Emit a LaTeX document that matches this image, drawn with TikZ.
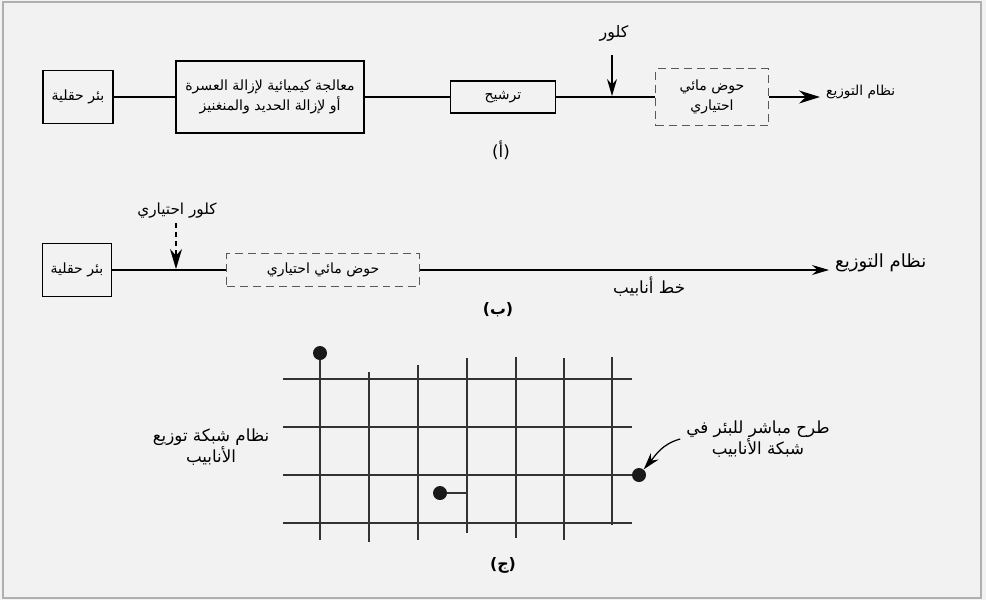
\documentclass[tikz,border=0pt]{standalone}
\usepackage{fontspec}
\newfontfamily\arabicfont[Script=Arabic]{DejaVu Sans}
\newfontfamily\parfont{DejaVu Sans}
\TeXXeTstate=1
\usepackage{tikz}
\usetikzlibrary{positioning, arrows.meta}
\definecolor{fundo}{HTML}{F2F2F2}
\definecolor{moldura}{HTML}{B0B0B0}
\newcommand{\ara}[1]{\beginR #1\endR}
\newcommand{\letraref}[1]{{\parfont(}\ara{#1}{\parfont)}}

\begin{document}
\begin{tikzpicture}[x=0.02cm, y=-0.02cm,
    caixa/.style={draw, line width=0.9pt, align=center, inner sep=1pt, font=\arabicfont\fontsize{8}{11}\selectfont},
    tanque/.style={caixa, draw=black!65, line width=0.8pt, dash pattern=on 0.16cm off 0.1cm},
    linha/.style={line width=0.8pt},
    seta/.style={-{Stealth[length=0.34cm, width=0.2cm]}, line width=0.8pt},
    rotp/.style={font=\arabicfont\fontsize{7.8}{9}\selectfont, align=center},
    rotg/.style={font=\arabicfont\fontsize{9.5}{11.5}\selectfont, align=center},
    letra/.style={font=\arabicfont\bfseries\fontsize{9}{11}\selectfont},
    grade/.style={line width=0.6pt, black!80},
    ponto/.style={circle, fill=black!90, inner sep=0pt, minimum size=0.28cm}
]
\useasboundingbox (0,0) rectangle (986,600);
\fill[fundo] (0,0) rectangle (986,600);
\draw[moldura, line width=0.8pt] (3,2) rectangle (981,598);

% (a)
\node[caixa, minimum width=1.4cm, minimum height=1.06cm] (pocoA) at (78,97) {\ara{بئر حقلية}};
\node[caixa, minimum width=3.76cm, minimum height=1.44cm] (quimica) at (270,97) {\ara{معالجة كيميائية لإزالة العسرة}\\\ara{أو لإزالة الحديد والمنغنيز}};
\node[caixa, minimum width=2.1cm, minimum height=0.64cm] (filtro) at (503,97) {\ara{ترشيح}};
\node[tanque, minimum width=2.26cm, minimum height=1.14cm] (tanqueA) at (712,97) {\ara{حوض مائي}\\\ara{احتياري}};
\node[rotp, anchor=west] (distA) at (820,92) {\ara{نظام التوزيع}};
\node[rotp, font=\arabicfont\fontsize{9}{11}\selectfont] (cloroA) at (614,33) {\ara{كلور}};
\coordinate (topoA) at (612,55);
\coordinate (injA) at (612,96);
\draw[linha] (pocoA) -- (quimica);
\draw[linha] (quimica) -- (filtro);
\draw[linha] (filtro) -- (tanqueA);
\draw[seta, -{Stealth[length=0.42cm, width=0.26cm]}] (tanqueA) -- (tanqueA -| distA.west);
\draw[seta] (topoA) -- (injA);
\node[letra, font=\arabicfont\fontsize{9.5}{11}\selectfont] (rotA) at (501,150) {\letraref{أ}};

% (b)
\node[caixa, minimum width=1.38cm, minimum height=1.06cm] (pocoB) at (77,270) {\ara{بئر حقلية}};
\node[tanque, minimum width=3.86cm, minimum height=0.66cm] (tanqueB) at (323,270) {\ara{حوض مائي احتياري}};
\node[rotg, anchor=west, font=\arabicfont\fontsize{10.3}{12}\selectfont] (distB) at (829,263) {\ara{نظام التوزيع}};
\node[rotp, font=\arabicfont\fontsize{8.7}{10}\selectfont] (cloroB) at (177,211) {\ara{كلور احتياري}};
\coordinate (topoB) at (176,223);
\coordinate (injB) at (176,269);
\draw[linha] (pocoB) -- (tanqueB);
\draw[seta, dash pattern=on 0.1cm off 0.08cm, -{Stealth[length=0.4cm, width=0.24cm]}] (topoB) -- (injB);
\draw[seta] (tanqueB) -- node[rotg, below, pos=0.56] {\ara{خط أنابيب}} (tanqueB -| distB.west);
\node[letra] (rotB) at (498,310) {\letraref{ب}};

% (c)
\node[ponto] (fonteA) at (320,353) {};
\node[ponto] (fonteB) at (440,493) {};
\node[ponto] (fonteC) at (639,475) {};
\coordinate (ligaB) at (467,493);
\coordinate (baseA) at (320,540);
\foreach \y in {379,427,523}
    \draw[grade] (283,\y) -- (632,\y);
\draw[grade] (283,475) -- (fonteC);
\draw[grade] (fonteA) -- (baseA);
\foreach \x/\t/\b in {369/372/542, 418/365/540, 467/358/533, 516/357/538, 564/358/540, 612/357/525}
    \draw[grade] (\x,\t) -- (\x,\b);
\draw[grade] (fonteB) -- (ligaB);
\node[rotg] (rede) at (211,447) {\ara{نظام شبكة توزيع}\\\ara{الأنابيب}};
\node[rotg] (direto) at (758,439) {\ara{طرح مباشر للبئر في}\\\ara{شبكة الأنابيب}};
\draw[seta, line width=0.7pt] (direto.west) to[out=195, in=50] (fonteC);
\node[letra] (rotC) at (503,565) {\letraref{ج}};
\end{tikzpicture}
\end{document}
